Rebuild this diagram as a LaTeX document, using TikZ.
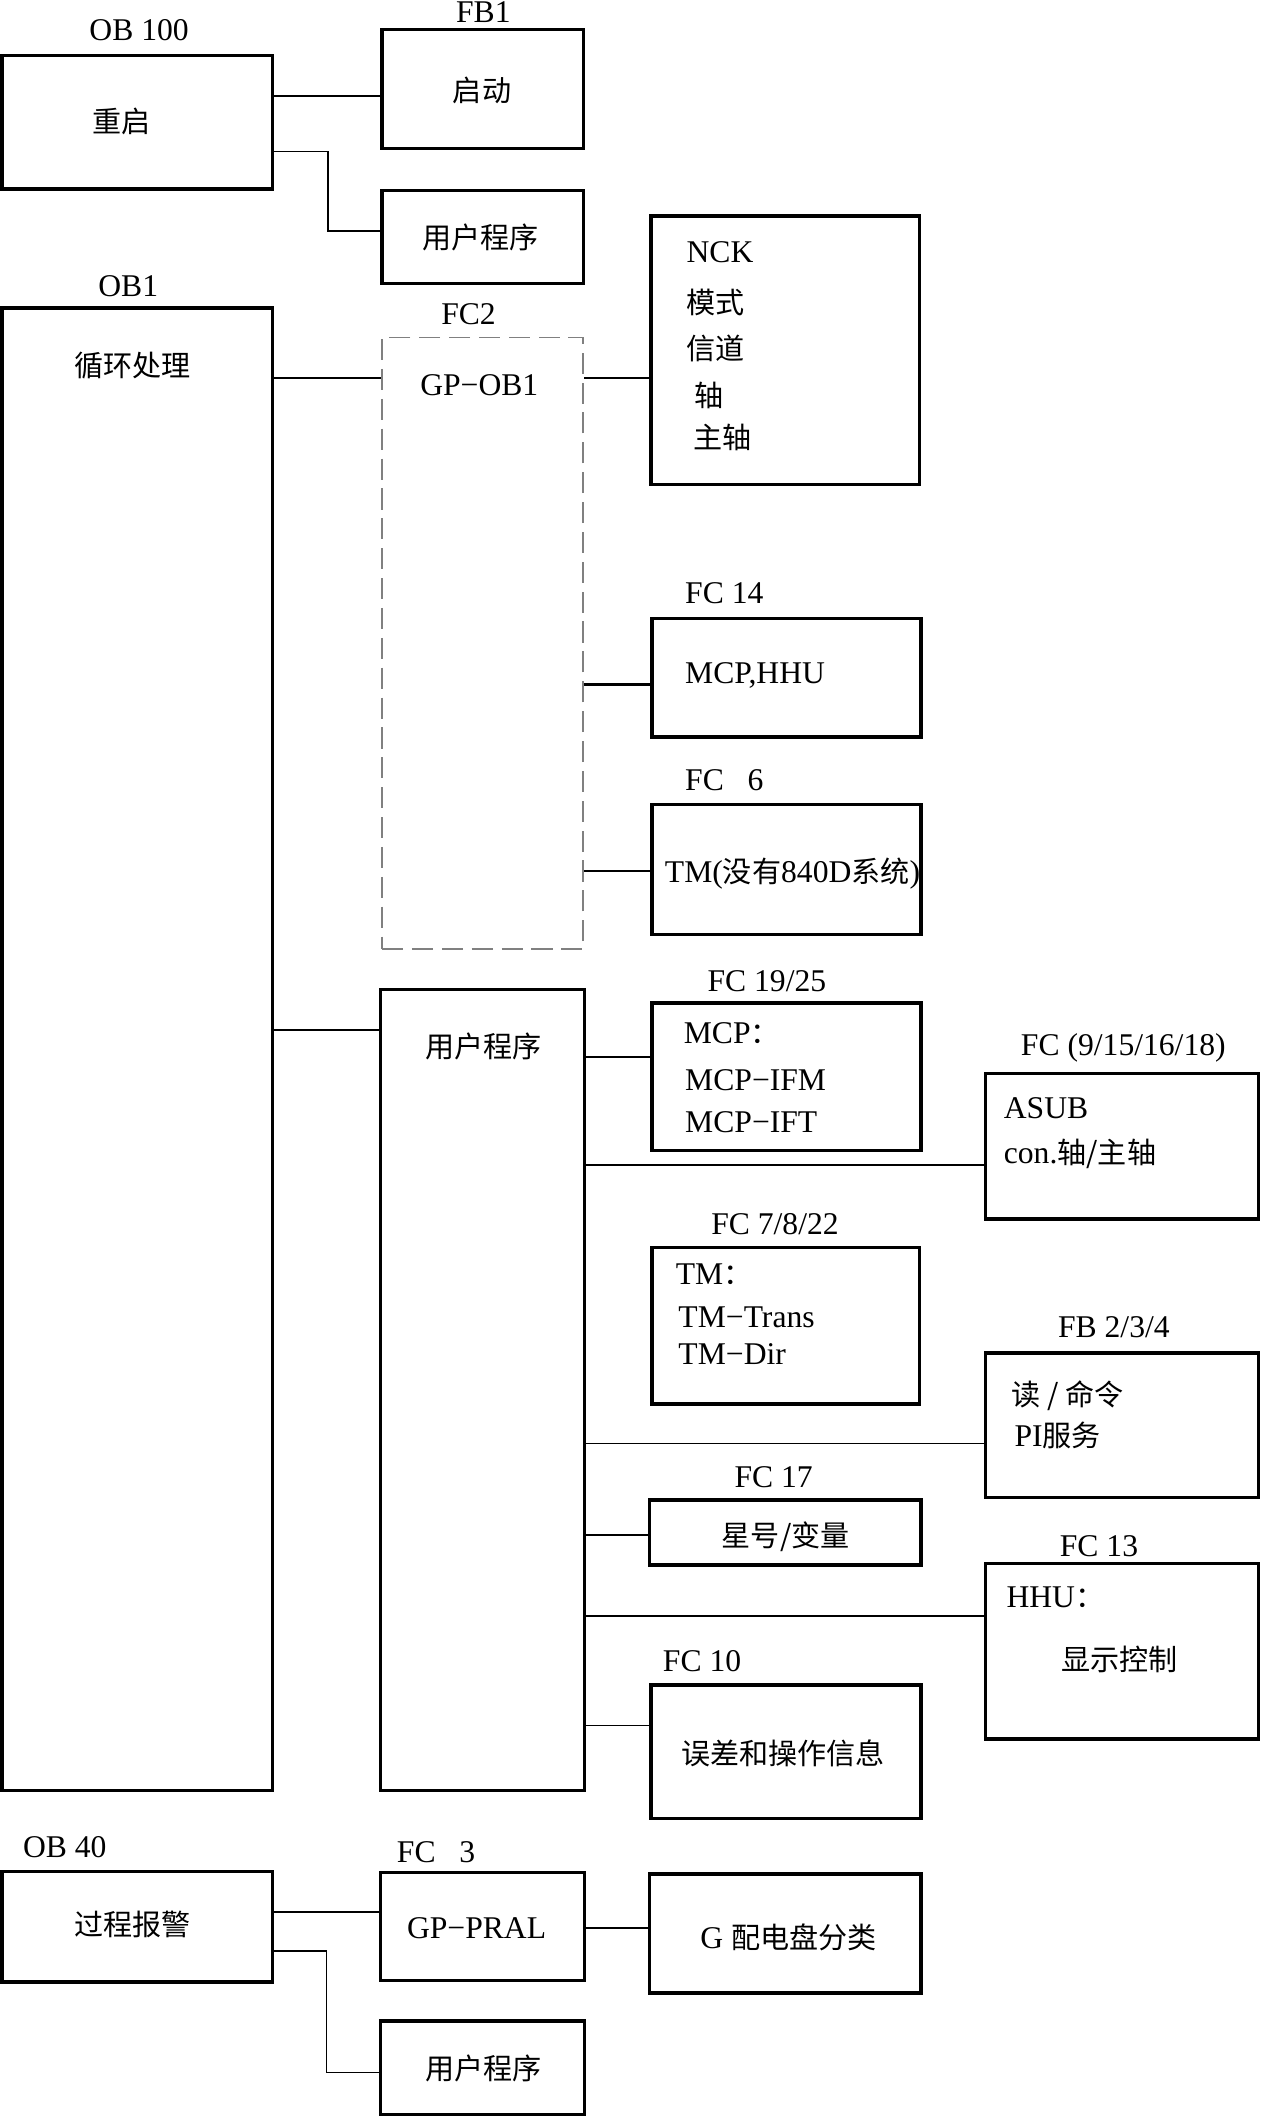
\documentclass[tikz,border=0pt]{standalone}
\usepackage{fontspec}
\setmainfont{Liberation Serif}
\newfontfamily\zhfont[Scale=0.92]{Noto Sans CJK SC}
\newcommand{\zh}[1]{{\zhfont #1}}
\usetikzlibrary{fit}

\begin{document}
\begin{tikzpicture}[x=0.0135cm, y=-0.0135cm,
  blk/.style={draw, line width=1pt, inner sep=0pt},
  dbox/.style={draw=gray, line width=0.5pt, dash pattern=on 6pt off 2.5pt, inner sep=0pt},
  txt/.style={inner sep=0pt, font=\fontsize{9}{11}\selectfont},
  ln/.style={draw, line width=0.4pt},
  lnb/.style={draw, line width=0.7pt}
]
\useasboundingbox (0,0) rectangle (934,1568);

% blocks
\node[blk, fit={(1.5,41) (202,140)}] (ob100) {};
\node[blk, fit={(283,22) (432,110)}] (fb1) {};
\node[blk, fit={(283,141) (432,210)}] (usr1) {};
\node[blk, fit={(1.5,228) (202,1326)}] (ob1) {};
\node[dbox, fit={(283,250) (432,703)}] (fc2) {};
\node[blk, fit={(482,160) (681,359)}] (nck) {};
\node[blk, fit={(483,458) (682,546)}] (fc14) {};
\node[blk, fit={(483,596) (682,692)}] (fc6) {};
\node[blk, fit={(282,733) (433,1326)}] (usr2) {};
\node[blk, fit={(483,743) (682,852)}] (fc19) {};
\node[blk, fit={(730,795) (932,903)}] (fc9) {};
\node[blk, fit={(483,924) (681,1040)}] (fc7) {};
\node[blk, fit={(730,1002) (932,1109)}] (fb2) {};
\node[blk, fit={(481,1111) (682,1159)}] (fc17) {};
\node[blk, fit={(730,1158) (932,1288)}] (fc13) {};
\node[blk, fit={(482,1248) (682,1347)}] (fc10) {};
\node[blk, fit={(1.5,1386) (202,1468)}] (ob40) {};
\node[blk, fit={(282,1387) (433,1467)}] (fc3) {};
\node[blk, fit={(481,1388) (682,1476)}] (gdist) {};
\node[blk, fit={(282,1497) (433,1566)}] (usr3) {};

% titles and texts
\node[txt] (ob100t) at (103,22) {OB 100};
\node[txt] (fb1t) at (358,9) {FB1};
\node[txt] (restart) at (90,90) {\zh{重启}};
\node[txt] (startup) at (357,67) {\zh{启动}};
\node[txt] (usr1t) at (356,176) {\zh{用户程序}};
\node[txt] (ob1t) at (95,212) {OB1};
\node[txt] (cycle) at (98,271) {\zh{循环处理}};
\node[txt] (fc2t) at (347,233) {FC2};
\node[txt] (gpob1) at (355,285) {GP−OB1};
\node[txt, anchor=west] (nck1) at (508,187) {NCK};
\node[txt, anchor=west] (nck2) at (508,224) {\zh{模式}};
\node[txt, anchor=west] (nck3) at (508,258) {\zh{信道}};
\node[txt, anchor=west] (nck4) at (514,293) {\zh{轴}};
\node[txt, anchor=west] (nck5) at (513,324) {\zh{主轴}};
\node[txt, anchor=west] (fc14t) at (507,439) {FC 14};
\node[txt, anchor=west] (mcphhu) at (507,500) {MCP,HHU};
\node[txt, anchor=west] (fc6t) at (507,578) {FC\enspace\ 6};
\node[txt, anchor=west] (tm840) at (492,647) {TM(\zh{没有}840D\zh{系统})};
\node[txt] (usr2t) at (358,775) {\zh{用户程序}};
\node[txt] (fc19t) at (568,727) {FC 19/25};
\node[txt, anchor=west] (mcp1) at (506,765) {MCP\zh{：}};
\node[txt, anchor=west] (mcp2) at (507,800) {MCP−IFM};
\node[txt, anchor=west] (mcp3) at (507,831) {MCP−IFT};
\node[txt] (fc9t) at (832,776) {FC (9/15/16/18)};
\node[txt, anchor=west] (asub1) at (743,821) {ASUB};
\node[txt, anchor=west] (asub2) at (743,855) {con.\zh{轴/主轴}};
\node[txt] (fc7t) at (574,907) {FC 7/8/22};
\node[txt, anchor=west] (tm1) at (500,944) {TM\zh{：}};
\node[txt, anchor=west] (tm2) at (502,976) {TM−Trans};
\node[txt, anchor=west] (tm3) at (502,1003) {TM−Dir};
\node[txt] (fb2t) at (825,983) {FB 2/3/4};
\node[txt, anchor=west] (rd1) at (749,1034) {\zh{读 / 命令}};
\node[txt, anchor=west] (rd2) at (751,1063) {PI\zh{服务}};
\node[txt] (fc17t) at (573,1094) {FC 17};
\node[txt] (star) at (582,1138) {\zh{星号/变量}};
\node[txt] (fc13t) at (814,1145) {FC 13};
\node[txt, anchor=west] (hhu) at (745,1183) {HHU\zh{：}};
\node[txt] (disp) at (829,1229) {\zh{显示控制}};
\node[txt] (fc10t) at (520,1230) {FC 10};
\node[txt] (errmsg) at (580,1299) {\zh{误差和操作信息}};
\node[txt] (ob40t) at (48,1368) {OB 40};
\node[txt] (alarm) at (98,1425) {\zh{过程报警}};
\node[txt] (fc3t) at (323,1372) {FC\enspace\ 3};
\node[txt] (gppral) at (353,1428) {GP−PRAL};
\node[txt] (gdistt) at (584,1435) {G \zh{配电盘分类}};
\node[txt] (usr3t) at (358,1532) {\zh{用户程序}};

% connections
\draw[ln] (ob100.east |- 0,71) -- (fb1.west |- 0,71);
\draw[ln] (ob100.east |- 0,112) -- (243,112) |- (usr1.west |- 0,171);
\draw[lnb] (ob1.east |- 0,280) -- (fc2.west |- 0,280);
\draw[lnb] (fc2.east |- 0,280) -- (nck.west |- 0,280);
\draw[lnb] (fc2.east |- 0,507) -- (fc14.west |- 0,507);
\draw[lnb] (fc2.east |- 0,645) -- (fc6.west |- 0,645);
\draw[lnb] (ob1.east |- 0,763) -- (usr2.west |- 0,763);
\draw[ln] (usr2.east |- 0,783) -- (fc19.west |- 0,783);
\draw[ln] (usr2.east |- 0,863) -- (fc9.west |- 0,863);
\draw[ln] (usr2.east |- 0,1069) -- (fb2.west |- 0,1069);
\draw[lnb] (usr2.east |- 0,1137) -- (fc17.west |- 0,1137);
\draw[lnb] (usr2.east |- 0,1197) -- (fc13.west |- 0,1197);
\draw[ln] (usr2.east |- 0,1278) -- (fc10.west |- 0,1278);
\draw[lnb] (ob40.east |- 0,1416) -- (fc3.west |- 0,1416);
\draw[ln] (fc3.east |- 0,1428) -- (gdist.west |- 0,1428);
\draw[ln] (ob40.east |- 0,1445) -- (242,1445) |- (usr3.west |- 0,1535);
\end{tikzpicture}
\end{document}
